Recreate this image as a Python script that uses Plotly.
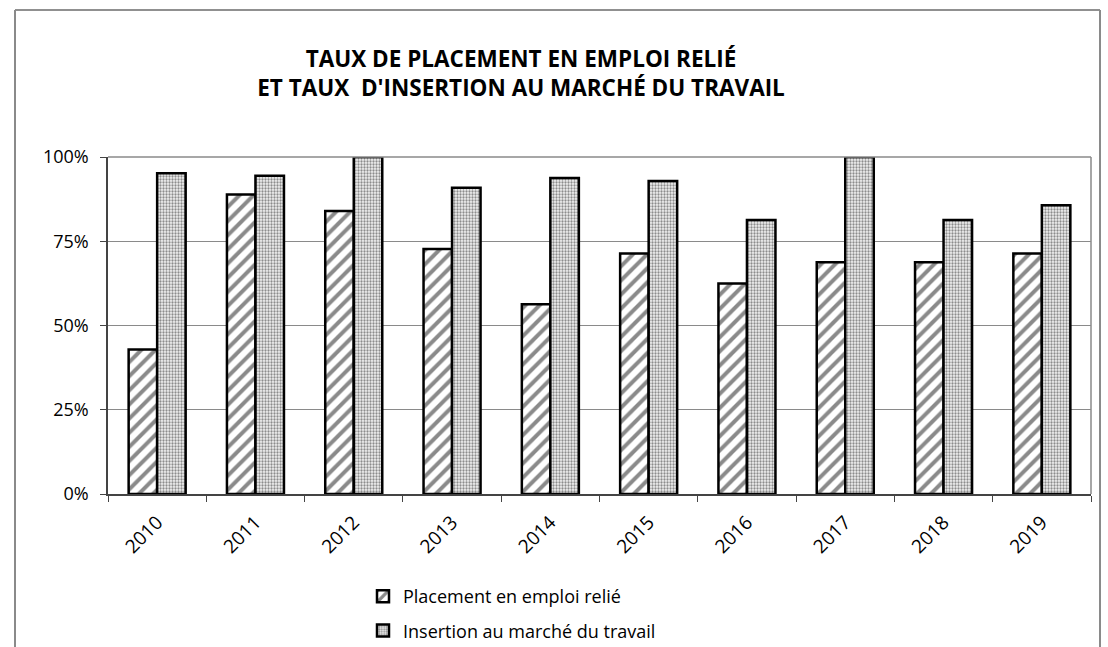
import plotly.graph_objects as go

# Survey years and rates (%)
annees = ["2010", "2011", "2012", "2013", "2014", "2015", "2016", "2017", "2018", "2019"]
placement = [42.9, 88.9, 84.0, 72.7, 56.3, 71.4, 62.5, 68.8, 68.8, 71.4]
insertion = [95.2, 94.4, 100.0, 90.9, 93.8, 92.9, 81.3, 100.0, 81.3, 85.7]
y_ticks = [0, 25, 50, 75, 100]
y_tick_text = ["0%", "25%", "50%", "75%", "100%"]

W, H = 1108, 647
L, R, T, B = 108, 1091, 157, 494  # plot-area edges in pixels


def px_x(x):
    return (x - L) / (R - L)


def px_y(y):
    return (B - y) / (B - T)


font_family = "'Open Sans', sans-serif"

fig = go.Figure()
fig.add_trace(go.Bar(
    x=annees, y=placement, name="Placement en emploi relié",
    legendgroup="a",
    marker=dict(
        color="white",
        line=dict(color="black", width=2.5),
        pattern=dict(shape="/", fgcolor="#8a8a8a", bgcolor="white",
                     size=10, solidity=0.4, fillmode="replace"),
    ),
))
fig.add_trace(go.Bar(
    x=annees, y=insertion, name="Insertion au marché du travail",
    legendgroup="b",
    marker=dict(
        color="#e6e6e6",
        line=dict(color="black", width=2.5),
        pattern=dict(shape=".", fgcolor="#8c8c8c", bgcolor="#f2f2f2",
                     size=3, solidity=0.45, fillmode="replace"),
    ),
))

# Outer chart frame
frame = dict(type="line", xref="paper", yref="paper", layer="above")
shapes = [
    dict(frame, x0=px_x(15), x1=px_x(1100), y0=px_y(10), y1=px_y(10),
         line=dict(color="#222222", width=1.2)),
    dict(frame, x0=px_x(15), x1=px_x(15), y0=px_y(10), y1=px_y(700),
         line=dict(color="#8a8a8a", width=2)),
    dict(frame, x0=px_x(1100), x1=px_x(1100), y0=px_y(10), y1=px_y(700),
         line=dict(color="#8a8a8a", width=2)),
    # plot-area border (top and right)
    dict(frame, x0=0, x1=1, y0=1, y1=1, line=dict(color="#8a8a8a", width=1.5)),
    dict(frame, x0=1, x1=1, y0=0, y1=1, line=dict(color="#8a8a8a", width=1.5)),
]

fig.update_layout(
    width=W, height=H,
    margin=dict(l=L, r=W - R, t=T, b=H - B, pad=0, autoexpand=False),
    paper_bgcolor="white", plot_bgcolor="white",
    font=dict(family=font_family, color="black", size=16),
    barmode="group", bargap=0.42, bargroupgap=0,
    title=dict(
        text="<b>TAUX DE PLACEMENT EN EMPLOI RELIÉ<br>ET TAUX \u00a0D'INSERTION AU MARCHÉ DU TRAVAIL</b>",
        x=px_x(521), xref="paper", xanchor="center",
        y=1 - 67 / H, yanchor="middle",
        font=dict(family="'Open Sans', sans-serif", size=22.5, color="black"),
    ),
    legend=dict(
        orientation="v", x=px_x(363), y=px_y(578), xanchor="left", yanchor="top",
        font=dict(size=18, family=font_family), tracegroupgap=8,
        bgcolor="rgba(0,0,0,0)",
    ),
    shapes=shapes,
    showlegend=True,
)
fig.update_xaxes(
    type="category", tickangle=-45, tickson="boundaries",
    ticks="outside", ticklen=6, tickcolor="#444", tickwidth=1,
    showline=True, linecolor="#444", linewidth=1.5, mirror=False,
    showgrid=False, tickfont=dict(size=19), automargin=False,
    ticklabelstandoff=8,
)
fig.update_yaxes(
    range=[0, 100], tickvals=y_ticks, ticktext=y_tick_text,
    ticks="outside", ticklen=6, tickcolor="#444", tickwidth=1,
    showline=True, linecolor="#444", linewidth=1.5, mirror=False,
    showgrid=True, gridcolor="#8a8a8a", gridwidth=1,
    tickfont=dict(size=18), zeroline=False, automargin=False,
    ticklabelstandoff=8,
)

fig.write_html("out.html")
